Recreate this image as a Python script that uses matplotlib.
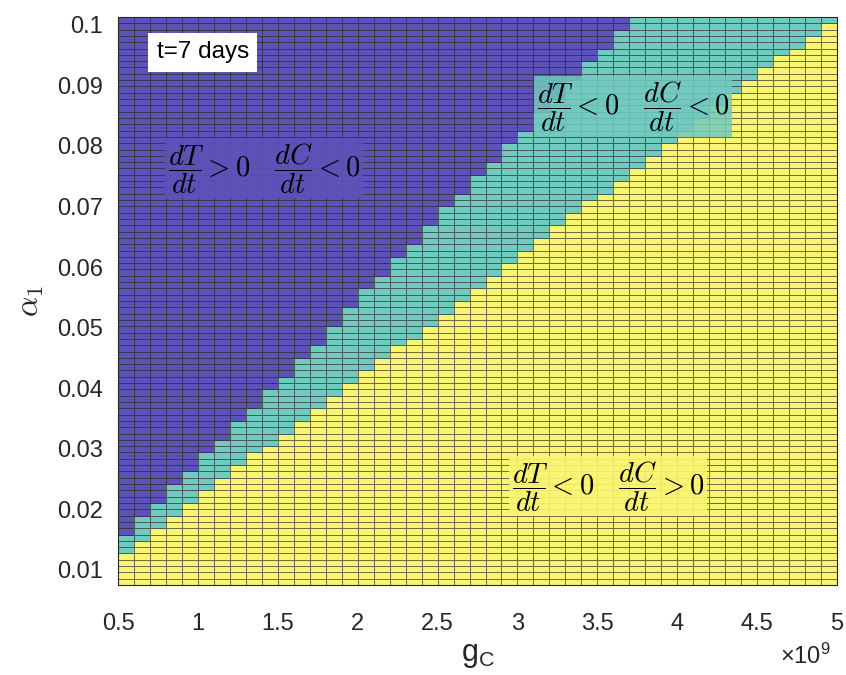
import numpy as np
import matplotlib
matplotlib.use('Agg')
import matplotlib.pyplot as plt
from matplotlib.colors import ListedColormap

plt.rcParams['font.family'] = ['Liberation Sans', 'DejaVu Sans']
plt.rcParams['mathtext.fontset'] = 'custom'
plt.rcParams['mathtext.rm'] = 'Liberation Sans'
plt.rcParams['mathtext.it'] = 'Liberation Sans:italic'
plt.rcParams['mathtext.bf'] = 'Liberation Sans:bold'

# g_C grid (45 columns from 0.5e9 to 5e9) and alpha_1 grid (90 rows)
gc_lo, gc_hi, n_gc = 0.5e9, 5.0e9, 45
a1_lo, a1_hi, n_a1 = 0.0075, 0.1013, 90

# per g_C column: number of rows (from the bottom) with dC/dt > 0
yellow_rows = [5, 7, 9, 11, 13, 15, 17, 19, 21, 22,
               24, 26, 28, 30, 32, 34, 36, 38, 39, 41,
               43, 45, 47, 49, 51, 53, 55, 57, 59, 61,
               62, 64, 66, 68, 70, 72, 74, 76, 78, 80,
               82, 84, 85, 87, 89]
# per g_C column: first row where dT/dt > 0
purple_start = [8, 11, 13, 16, 18, 21, 23, 26, 28, 31,
                33, 36, 38, 41, 44, 47, 49, 52, 54, 57,
                60, 62, 65, 67, 70, 72, 75, 77, 80, 83,
                85, 88, 90, 90, 90, 90, 90, 90, 90, 90,
                90, 90, 90, 90, 90]

c_purple = '#5c52b8'
c_teal = '#72c9bf'
c_yellow = '#f9f472'

Z = np.ones((n_a1, n_gc))
for j in range(n_gc):
    Z[:yellow_rows[j], j] = 2
    Z[purple_start[j]:, j] = 0

xe = np.linspace(gc_lo, gc_hi, n_gc + 1)
ye = np.linspace(a1_lo, a1_hi, n_a1 + 1)

fig = plt.figure(figsize=(8.46, 6.75), dpi=100)
ax = fig.add_axes([0.1395, 0.1333, 0.8499, 0.8415])
cmap = ListedColormap([c_purple, c_teal, c_yellow])
ax.pcolormesh(xe, ye, Z, cmap=cmap, vmin=-0.5, vmax=2.5,
              edgecolors=(0.15, 0.15, 0.15, 0.65), linewidth=0.65)

ax.set_xlim(gc_lo, gc_hi)
ax.set_ylim(a1_lo, a1_hi)
xt = [0.5, 1, 1.5, 2, 2.5, 3, 3.5, 4, 4.5, 5]
ax.set_xticks([v * 1e9 for v in xt])
ax.set_xticklabels(['%g' % v for v in xt])
yt = [0.01, 0.02, 0.03, 0.04, 0.05, 0.06, 0.07, 0.08, 0.09, 0.1]
ax.set_yticks(yt)
ax.set_yticklabels(['%g' % v for v in yt])
ax.tick_params(labelsize=17, direction='in', length=0, colors='#262626')
ax.tick_params(axis='x', pad=20)
ax.tick_params(axis='y', pad=11)
for s in ax.spines.values():
    s.set_color('#262626')
    s.set_linewidth(0.8)

ax.set_xlabel(r'g$_\mathrm{C}$', fontsize=22, color='#262626', labelpad=4)
ax.set_ylabel(r'$\alpha_{\mathsf{1}}$', fontsize=23, color='#262626',
              math_fontfamily='cm', labelpad=8)
fig.text(0.952, 0.028, r'$\times$10$^9$', fontsize=17, color='#262626',
         ha='center', va='center')

ax.text(0.118, 0.938, 't=7 days', transform=ax.transAxes, fontsize=17.5,
        ha='center', va='center',
        bbox=dict(boxstyle='square,pad=0.35', facecolor='white', edgecolor='none'))

fs = 20.5
ax.text(0.203, 0.734, r'$\dfrac{dT}{dt}>0\quad\dfrac{dC}{dt}<0$', transform=ax.transAxes,
        fontsize=fs, math_fontfamily='cm', ha='center', va='center',
        bbox=dict(boxstyle='square,pad=0.1', facecolor=c_purple, alpha=0.92,
                  edgecolor='none'))
ax.text(0.716, 0.842, r'$\dfrac{dT}{dt}<0\quad\dfrac{dC}{dt}<0$', transform=ax.transAxes,
        fontsize=fs, math_fontfamily='cm', ha='center', va='center',
        bbox=dict(boxstyle='square,pad=0.1', facecolor=c_teal, alpha=0.85,
                  edgecolor='none'))
ax.text(0.681, 0.174, r'$\dfrac{dT}{dt}<0\quad\dfrac{dC}{dt}>0$', transform=ax.transAxes,
        fontsize=fs, math_fontfamily='cm', ha='center', va='center',
        bbox=dict(boxstyle='square,pad=0.1', facecolor=c_yellow, alpha=0.9,
                  edgecolor='none'))

fig.savefig('out.png', dpi=100)
